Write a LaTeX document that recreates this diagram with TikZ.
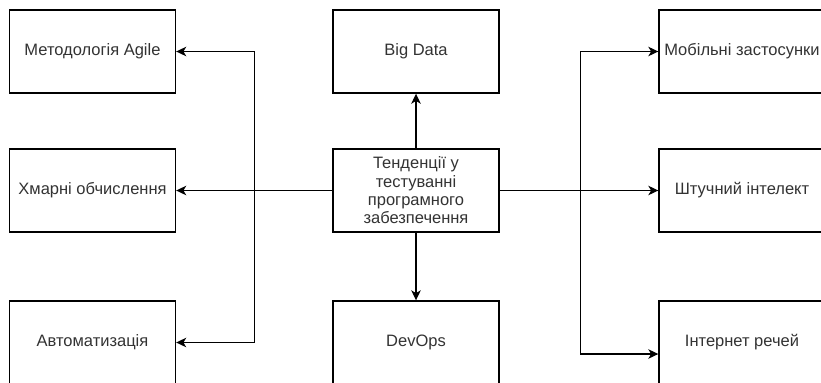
\documentclass[tikz,border=0pt]{standalone}
\usepackage{fontspec}
\setmainfont{Liberation Sans}
\usetikzlibrary{arrows.meta}
\definecolor{txt}{HTML}{333333}
\begin{document}
\begin{tikzpicture}[x=1bp,y=-1bp,
  box/.style={draw=black, line width=1.4bp, fill=white, minimum width=166bp,
    minimum height=83bp, inner sep=2bp, align=center, text=txt,
    font=\fontsize{16.5bp}{18.3bp}\selectfont},
  arr/.style={draw=black, line width=1.3bp,
    -{Stealth[length=10bp,width=9.5bp,inset=2.8bp]}},
  ln/.style={draw=black, line width=1.3bp}]
\useasboundingbox (0,0) rectangle (821,382);
\clip (0,0) rectangle (821,382);
% left column
\node[box] (agile)  at (92.5,51.5)  {Методологія Agile};
\node[box] (cloud)  at (92.5,190.5) {Хмарні обчислення};
\node[box] (auto)   at (92.5,342.5) {Автоматизація};
% middle column
\node[box] (bigdata) at (416,51.5)  {Big Data};
\node[box] (trend)   at (416,190.5) {Тенденції у\\тестуванні\\програмного\\забезпечення};
\node[box] (devops)  at (416,342.5) {DevOps};
% right column
\node[box] (mobile) at (742,51.5)  {Мобільні застосунки};
\node[box] (ai)     at (742,190.5) {Штучний інтелект};
\node[box] (iot)    at (742,342.5) {Інтернет речей};
% connectors
\draw[arr] (trend.north) -- (bigdata.south);
\draw[arr] (trend.south) -- (devops.north);
\draw[arr] (trend.west) -- (cloud.east);
\draw[arr] (trend.west) -- ++(-78,0) |- (agile.east);
\draw[arr] (trend.west) -- ++(-78,0) |- (auto.east);
\draw[arr] (trend.east) -- (ai.west);
\draw[arr] (trend.east) -- ++(81,0) |- (mobile.west);
\draw[arr] (trend.east) -- ++(81,0) |- ([yshift=-11.5bp]iot.west);
\end{tikzpicture}
\end{document}
